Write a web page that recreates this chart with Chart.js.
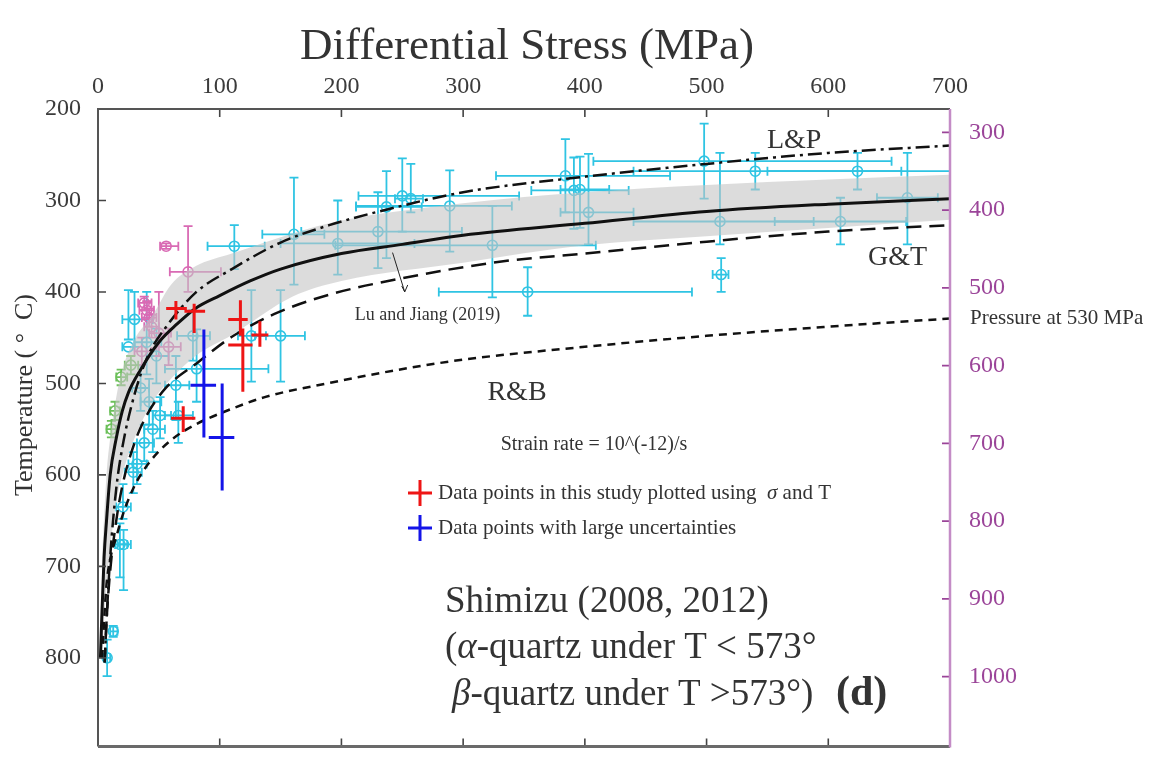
<!DOCTYPE html>
<html>
<head>
<meta charset="utf-8">
<title>Differential Stress vs Temperature</title>
<script src="https://cdn.jsdelivr.net/npm/chart.js@4.4.1/dist/chart.umd.min.js"></script>
<style>
    html, body { margin: 0; padding: 0; background: #fff; }
</style>
</head>
<body>
<canvas id="myChart" width="1163" height="772"></canvas>
<script>
// values: stress in MPa, temperature in deg C

// axis ticks
const stressTicks = [0, 100, 200, 300, 400, 500, 600, 700];
const tempTicks = [200, 300, 400, 500, 600, 700, 800];
const pressureTicks = [300, 400, 500, 600, 700, 800, 900, 1000];

// Lu and Jiang (2019), solid line
const ljStress = [2, 3, 5, 7, 10, 15, 20, 25, 35, 50, 65, 80, 100, 125, 150, 200, 250, 300, 400, 500, 600, 700];
const ljTemp = [800, 760, 690, 650, 600, 560, 530, 510, 485, 455, 435, 418, 404, 388, 375, 358, 348, 338, 325, 312, 304, 298];

// uncertainty band round Lu and Jiang
const bandStress = [3, 7, 10, 15, 20, 30, 45, 60, 80, 110, 160, 200, 300, 400, 500, 600, 700];
const bandUpper = [700, 600, 560, 515, 485, 452, 425, 392, 372, 358, 336, 322, 303, 291, 283, 277, 272];
const bandLower = [800, 720, 680, 630, 600, 560, 520, 495, 470, 447, 405, 388, 368, 349, 339, 330, 321];

// L&P, dash-dot
const lpStress = [5.5, 7, 10, 15, 20, 30, 41, 55, 80, 110, 150, 190, 240, 300, 400, 500, 600, 700];
const lpTemp = [805, 760, 690, 615, 570, 512, 470, 440, 401, 375, 346, 327, 309, 291, 274, 260, 248, 240];

// G&T, long dash
const gtStress = [5.5, 7, 10, 15, 20, 30, 40, 55, 82, 110, 145, 190, 250, 330, 400, 500, 600, 700];
const gtTemp = [805, 760, 705, 650, 612, 565, 535, 506, 477, 449, 424, 403, 385, 367, 358, 345, 334, 327];

// R&B, short dash (pressure at 530 MPa)
const rbStress = [3.5, 5, 7, 10, 15, 20, 30, 43, 60, 80, 100, 137, 192, 247, 300, 400, 500, 600, 700];
const rbTemp = [800, 760, 720, 692, 668, 645, 612, 585, 562, 545, 533, 515, 499, 485, 474, 460, 448, 438, 429];

// data points: [stress, temp, stressLow, stressHigh, tempLow, tempHigh]
const cyanPoints = [
    [112, 350, 90, 137, 327, 375],
    [161, 337, 135, 186, 275, 392],
    [237, 307, 212, 266, 268, 363],
    [250, 295, 214, 346, 254, 334],
    [257, 298, 244, 267, 260, 313],
    [289, 306, 212, 340, 267, 356],
    [353, 400, 280, 488, 373, 426],
    [384, 273, 327, 470, 233, 313],
    [391, 289, 356, 436, 253, 331],
    [396, 288, 380, 420, 252, 330],
    [403, 313, 380, 440, 249, 348],
    [197, 347, 150, 260, 300, 381],
    [230, 334, 167, 299, 291, 374],
    [324, 349, 195, 409, 306, 406],
    [498, 257, 407, 652, 216, 298],
    [540, 268, 440, 660, 248, 288],
    [624, 268, 550, 700, 248, 288],
    [511, 323, 440, 588, 248, 348],
    [512, 381, 505, 518, 363, 400],
    [610, 323, 556, 664, 297, 348],
    [665, 297, 640, 690, 248, 348],
    [126, 448, 115, 138, 398, 498],
    [150, 448, 129, 170, 398, 498],
    [81, 484, 55, 140, 441, 520],
    [64, 502, 55, 75, 470, 540],
    [78, 448, 65, 92, 420, 475],
    [51, 535, 45, 60, 515, 560],
    [66, 535, 55, 78, 520, 565],
    [29, 597, 22, 36, 575, 620],
    [32, 588, 25, 40, 565, 610],
    [20.5, 635, 15, 27, 610, 648],
    [18, 676, 14, 24, 653, 712],
    [21, 676, 16, 27, 660, 726],
    [12.5, 771, 10, 16, 765, 777],
    [7.5, 800, 5, 10, 780, 820],
    [25, 460, 20, 30, 398, 452],
    [30, 430, 20, 45, 400, 460],
    [40, 455, 30, 52, 400, 490],
    [48, 470, 40, 58, 440, 500],
    [35, 505, 28, 42, 480, 530],
    [42, 520, 35, 52, 495, 545],
    [45, 550, 38, 55, 530, 575],
    [38, 565, 32, 46, 545, 585]
];
const magentaPoints = [
    [56, 350, 51, 66, 347, 353],
    [74, 378, 59, 101, 328, 400],
    [38, 412, 33, 44, 405, 420],
    [40, 420, 34, 46, 410, 430],
    [42, 428, 36, 48, 418, 438],
    [44, 438, 38, 50, 425, 450],
    [50, 445, 42, 60, 400, 470],
    [58, 460, 48, 68, 440, 480],
    [36, 465, 30, 44, 450, 480]
];
const greenPoints = [
    [19, 493, 15, 24, 485, 502],
    [11, 550, 7, 15, 541, 559],
    [14, 530, 10, 18, 520, 540],
    [27, 480, 22, 33, 470, 490]
];
const redCrosses = [
    [64, 418, 56, 73, 410, 430],
    [79, 421, 71, 88, 413, 445],
    [117, 430, 107, 123, 409, 448],
    [119, 458, 107, 127, 440, 509],
    [133, 447, 126, 140, 432, 460],
    [70, 538, 60, 80, 525, 553]
];
const blueCrosses = [
    [87, 502, 76, 97, 441, 559],
    [102, 559, 91, 112, 500, 617]
];

const SERIF = "'Liberation Serif', 'DejaVu Serif', serif";
const CYAN = "#2fc4e3";
const MAGENTA = "#d96ab4";
const GREEN = "#6cc05a";
const RED = "#ee1515";
const BLUE = "#1414e8";
const PURPLE = "#9b4599";
const INK = "#333";

const toErr = rows => rows.map(r => ({ x: r[0], y: r[1], xLo: r[2], xHi: r[3], yLo: r[4], yHi: r[5] }));
const toLine = (xs, ys) => xs.map((x, i) => ({ x: x, y: ys[i] }));
const fixTicks = values => (s) => { s.ticks = values.map(v => ({ value: v })); };

const pointSet = (label, rows, color) => ({
    label: label,
    data: toErr(rows),
    borderColor: color,
    backgroundColor: "rgba(0,0,0,0)",
    pointRadius: 5,
    pointBorderWidth: 1.6,
    errStyle: "cap",
    errColor: color,
    order: 10
});

const crossSet = (label, rows, color) => ({
    label: label,
    data: toErr(rows),
    pointRadius: 0,
    errStyle: "cross",
    errColor: color,
    order: 0
});

const curveSet = (label, xs, ys, dash, width) => ({
    label: label,
    type: "line",
    data: toLine(xs, ys),
    borderColor: "#111",
    borderWidth: width,
    borderDash: dash,
    pointRadius: 0,
    cubicInterpolationMode: "monotone",
    fill: false,
    order: 2
});

// error bars: caps for literature data, plain thick crosses for this study
const drawBars = (chart, style) => {
    const ctx = chart.ctx;
    const xs = chart.scales.x;
    const ys = chart.scales.y;
    const area = chart.chartArea;
    ctx.save();
    ctx.beginPath();
    ctx.rect(area.left, area.top, area.right - area.left, area.bottom - area.top);
    ctx.clip();
    chart.data.datasets.forEach((ds) => {
        if (ds.errStyle !== style) return;
        ctx.strokeStyle = ds.errColor;
        ctx.lineWidth = style === "cap" ? 1.8 : 3;
        ds.data.forEach((d) => {
            const px = xs.getPixelForValue(d.x);
            const py = ys.getPixelForValue(d.y);
            const x0 = xs.getPixelForValue(d.xLo);
            const x1 = xs.getPixelForValue(d.xHi);
            const y0 = ys.getPixelForValue(d.yLo);
            const y1 = ys.getPixelForValue(d.yHi);
            ctx.beginPath();
            ctx.moveTo(x0, py); ctx.lineTo(x1, py);
            ctx.moveTo(px, y0); ctx.lineTo(px, y1);
            if (style === "cap") {
                const c = 4.5;
                ctx.moveTo(x0, py - c); ctx.lineTo(x0, py + c);
                ctx.moveTo(x1, py - c); ctx.lineTo(x1, py + c);
                ctx.moveTo(px - c, y0); ctx.lineTo(px + c, y0);
                ctx.moveTo(px - c, y1); ctx.lineTo(px + c, y1);
            }
            ctx.stroke();
        });
    });
    ctx.restore();
};

const drawRich = (ctx, parts, x, y) => {
    let cx = x;
    parts.forEach(([t, f]) => {
        ctx.font = f;
        ctx.fillText(t, cx, y);
        cx += ctx.measureText(t).width;
    });
};

const drawFrame = (chart) => {
    const ctx = chart.ctx;
    const a = chart.chartArea;
    const xs = chart.scales.x;
    const ys = chart.scales.y;
    const ps = chart.scales.y2;
    ctx.save();
    ctx.lineCap = "butt";
    // ticks point inwards
    ctx.strokeStyle = "#444";
    ctx.lineWidth = 1.6;
    ctx.beginPath();
    xs.ticks.forEach((t) => {
        const px = xs.getPixelForValue(t.value);
        if (t.value <= xs.min || t.value >= xs.max) return;
        ctx.moveTo(px, a.top); ctx.lineTo(px, a.top + 8);
        ctx.moveTo(px, a.bottom); ctx.lineTo(px, a.bottom - 8);
    });
    ys.ticks.forEach((t) => {
        const py = ys.getPixelForValue(t.value);
        if (t.value <= ys.min) return;
        ctx.moveTo(a.left, py); ctx.lineTo(a.left + 8, py);
    });
    ctx.stroke();
    ctx.strokeStyle = PURPLE;
    ctx.beginPath();
    ps.ticks.forEach((t) => {
        const py = ps.getPixelForValue(t.value);
        ctx.moveTo(a.right, py); ctx.lineTo(a.right - 8, py);
    });
    ctx.stroke();
    // frame
    ctx.lineWidth = 2;
    ctx.strokeStyle = "#555";
    ctx.beginPath();
    ctx.moveTo(a.left, a.bottom); ctx.lineTo(a.left, a.top); ctx.lineTo(a.right, a.top);
    ctx.stroke();
    ctx.lineWidth = 3;
    ctx.strokeStyle = "#6a6a6a";
    ctx.beginPath();
    ctx.moveTo(a.left, a.bottom); ctx.lineTo(a.right, a.bottom);
    ctx.stroke();
    ctx.lineWidth = 2.5;
    ctx.strokeStyle = "#c48cc6";
    ctx.beginPath();
    ctx.moveTo(a.right, a.top); ctx.lineTo(a.right, a.bottom + 1);
    ctx.stroke();
    ctx.restore();
};

const drawNotes = (chart) => {
    const ctx = chart.ctx;
    const xs = chart.scales.x;
    const ys = chart.scales.y;
    const a = chart.chartArea;
    const X = v => xs.getPixelForValue(v);
    const Y = v => ys.getPixelForValue(v);
    ctx.save();
    ctx.fillStyle = INK;
    ctx.textBaseline = "middle";

    // title and y title
    ctx.textAlign = "center";
    ctx.font = "45px " + SERIF;
    ctx.fillText("Differential Stress (MPa)", 527, 47);
    ctx.save();
    ctx.translate(25, 395);
    ctx.rotate(-Math.PI / 2);
    ctx.font = "26px " + SERIF;
    ctx.fillText("Temperature ( \u00b0  C)", 0, 0);
    ctx.restore();

    // curve labels
    ctx.font = "28px " + SERIF;
    ctx.fillText("L&P", X(572), Y(235));
    ctx.fillText("G&T", X(657), Y(362));
    ctx.fillText("R&B", 517, 393);

    ctx.font = "20px " + SERIF;
    ctx.fillText("Strain rate = 10^(-12)/s", 594, 445);

    ctx.textAlign = "left";
    ctx.font = "18px " + SERIF;
    ctx.fillText("Lu and Jiang (2019)", X(211), Y(425));
    ctx.strokeStyle = "#222";
    ctx.lineWidth = 1;
    ctx.beginPath();
    ctx.moveTo(X(242), Y(357));
    ctx.lineTo(X(252), Y(400));
    ctx.stroke();
    ctx.beginPath();
    ctx.moveTo(X(252) - 3, Y(400) - 6);
    ctx.lineTo(X(252), Y(400));
    ctx.lineTo(X(252) + 3, Y(400) - 7);
    ctx.stroke();

    ctx.font = "21px " + SERIF;
    ctx.fillText("Pressure at 530 MPa", a.right + 20, Y(rbTemp[rbTemp.length - 1]));

    // legend
    const legendRows = [
        [RED, 493, [["Data points in this study plotted using  ", "21px " + SERIF], ["\u03c3", "italic 21px " + SERIF], [" and T", "21px " + SERIF]]],
        [BLUE, 528, [["Data points with large uncertainties", "21px " + SERIF]]]
    ];
    legendRows.forEach(([col, ly, parts]) => {
        ctx.strokeStyle = col;
        ctx.lineWidth = 3;
        ctx.beginPath();
        ctx.moveTo(408, ly); ctx.lineTo(432, ly);
        ctx.moveTo(420, ly - 13); ctx.lineTo(420, ly + 13);
        ctx.stroke();
        ctx.fillStyle = INK;
        drawRich(ctx, parts, 438, ly);
    });

    // reference block
    ctx.textBaseline = "alphabetic";
    const cap = "37px " + SERIF;
    const capItalic = "italic 37px " + SERIF;
    drawRich(ctx, [["Shimizu (2008, 2012)", cap]], 445, 612);
    drawRich(ctx, [["(", cap], ["\u03b1", capItalic], ["-quartz under T < 573\u00b0", cap]], 445, 658);
    drawRich(ctx, [["\u03b2", capItalic], ["-quartz under T >573\u00b0)", cap]], 452, 705);
    drawRich(ctx, [["(d)", "bold 42px " + SERIF]], 836, 705);
    ctx.restore();
};

const figurePlugin = {
    id: "figurePlugin",
    beforeDatasetsDraw(chart) { drawBars(chart, "cap"); },
    afterDatasetsDraw(chart) {
        drawBars(chart, "cross");
        drawFrame(chart);
        drawNotes(chart);
    }
};

const tickFont = { family: SERIF, size: 24 };
const ctx = document.getElementById("myChart").getContext("2d");
const myChart = new Chart(ctx, {
    type: "scatter",
    data: {
        datasets: [
            pointSet("Shimizu data", cyanPoints, CYAN),
            pointSet("Shimizu data 2", magentaPoints, MAGENTA),
            pointSet("Shimizu data 3", greenPoints, GREEN),
            {
                label: "band upper",
                type: "line",
                data: toLine(bandStress, bandUpper),
                fill: "+1",
                backgroundColor: "rgba(196,196,196,0.6)",
                borderWidth: 0,
                borderColor: "rgba(0,0,0,0)",
                pointRadius: 0,
                cubicInterpolationMode: "monotone",
                order: 6
            },
            {
                label: "band lower",
                type: "line",
                data: toLine(bandStress, bandLower),
                fill: false,
                borderWidth: 0,
                borderColor: "rgba(0,0,0,0)",
                pointRadius: 0,
                cubicInterpolationMode: "monotone",
                order: 6
            },
            curveSet("Lu and Jiang (2019)", ljStress, ljTemp, [], 3),
            curveSet("L&P", lpStress, lpTemp, [14, 5, 3, 5], 2.5),
            curveSet("G&T", gtStress, gtTemp, [15, 8], 2.5),
            curveSet("R&B", rbStress, rbTemp, [8, 6], 2.5),
            crossSet("this study", redCrosses, RED),
            crossSet("large uncertainties", blueCrosses, BLUE)
        ]
    },
    options: {
        responsive: false,
        animation: false,
        events: [],
        layout: { padding: { top: 74, bottom: 15, left: 0, right: 0 } },
        plugins: {
            legend: { display: false },
            tooltip: { enabled: false },
            title: { display: false }
        },
        scales: {
            x: {
                type: "linear",
                position: "top",
                min: 0,
                max: 700,
                grid: { display: false },
                border: { display: false },
                ticks: { font: tickFont, color: "#3b3b3b", padding: 0, maxRotation: 0, autoSkip: false },
                afterBuildTicks: fixTicks(stressTicks),
                afterFit: (s) => { s.height = 35; }
            },
            y: {
                type: "linear",
                position: "left",
                reverse: true,
                min: 200,
                max: 897,
                grid: { display: false },
                border: { display: false },
                ticks: { font: tickFont, color: "#3b3b3b", padding: 9, autoSkip: false },
                afterBuildTicks: fixTicks(tempTicks),
                afterFit: (s) => { s.width = 98; }
            },
            y2: {
                type: "linear",
                position: "right",
                reverse: true,
                min: 270,
                max: 1090,
                grid: { display: false },
                border: { display: false },
                ticks: { font: tickFont, color: PURPLE, padding: 11, autoSkip: false, callback: v => String(v) },
                afterBuildTicks: fixTicks(pressureTicks),
                afterFit: (s) => { s.width = 213; }
            }
        }
    },
    plugins: [figurePlugin]
});
</script>
</body>
</html>
